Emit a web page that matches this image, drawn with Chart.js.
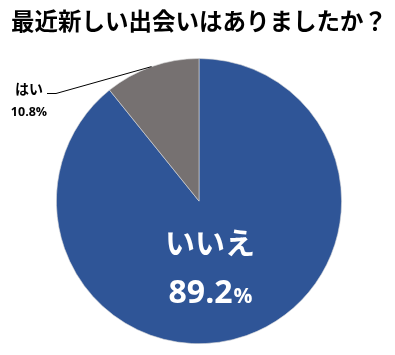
<!DOCTYPE html>
<html>
<head>
<meta charset="utf-8">
<script src="https://cdn.jsdelivr.net/npm/chart.js@4"></script>
<style>
  html, body { margin: 0; padding: 0; background: #fff; }
  #wrap { width: 395px; height: 355px; }
</style>
</head>
<body>
<div id="wrap"><canvas id="chart" width="395" height="355"></canvas></div>
<script>
/* Pie: 最近新しい出会いはありましたか？ — いいえ / はい share. */

const TITLE = '最近新しい出会いはありましたか？';
const labels = ['いいえ', 'はい'];
const shares = [89.2, 10.8];
const colors = ['#2F5597', '#767171'];

const JP = '"Noto Sans CJK JP", "Noto Sans", sans-serif';

// Draws the in-slice label for いいえ and the outside callout for はい.
const sliceLabels = {
  id: 'sliceLabels',
  afterDatasetsDraw(chart) {
    const { ctx } = chart;
    const arcs = chart.getDatasetMeta(0).data;
    const big = arcs[0];
    const small = arcs[1];
    const cx = big.x, cy = big.y;

    ctx.save();
    ctx.textBaseline = 'middle';

    // いいえ, inside the blue slice
    ctx.fillStyle = '#ffffff';
    ctx.textAlign = 'center';
    ctx.font = `bold 30px ${JP}`;
    ctx.fillText(labels[0], cx + 11, cy + 41);

    const num = shares[0].toFixed(1);
    ctx.font = 'bold 32px "Open Sans", sans-serif';
    const wNum = ctx.measureText(num).width;
    ctx.font = 'bold 21px "Open Sans", sans-serif';
    const wPct = ctx.measureText('%').width;
    const x0 = cx + 11 - (wNum + wPct) / 2;
    ctx.textAlign = 'left';
    ctx.font = 'bold 32px "Open Sans", sans-serif';
    ctx.fillText(num, x0, cy + 93);
    ctx.font = 'bold 21px "Open Sans", sans-serif';
    ctx.fillText('%', x0 + wNum + 1, cy + 96);

    // はい, callout to the left with a leader line to the arc middle
    const mid = (small.startAngle + small.endAngle) / 2;
    const ex = small.x + Math.cos(mid) * small.outerRadius;
    const ey = small.y + Math.sin(mid) * small.outerRadius;
    ctx.strokeStyle = '#000000';
    ctx.lineWidth = 1;
    ctx.beginPath();
    ctx.moveTo(47, 93.5);
    ctx.lineTo(56, 93.5);
    ctx.lineTo(ex, ey);
    ctx.stroke();

    ctx.fillStyle = '#000000';
    ctx.textAlign = 'center';
    ctx.font = `bold 14px ${JP}`;
    ctx.fillText(labels[1], 29, 89);
    ctx.font = 'bold 12.5px "Open Sans", sans-serif';
    ctx.fillText(shares[1].toFixed(1) + '%', 29, 112);
    ctx.restore();
  }
};

new Chart(document.getElementById('chart'), {
  type: 'pie',
  data: {
    labels,
    datasets: [{
      data: shares,
      backgroundColor: colors,
      borderColor: '#d9d9d9',
      borderWidth: 0.6,
    }],
  },
  options: {
    responsive: false,
    animation: false,
    rotation: 0,
    // the pie fits the chart-area height; a small left pad centres it at x≈199
    layout: { padding: { left: 3, right: 0, top: 0, bottom: 11 } },
    plugins: {
      legend: { display: false },
      tooltip: { enabled: false },
      title: {
        display: true,
        text: TITLE,
        color: '#000000',
        font: { family: JP, size: 23.5, weight: 'bold', lineHeight: 1.2 },
        padding: { top: 7, bottom: 23 },
      },
    },
  },
  plugins: [sliceLabels],
});
</script>
</body>
</html>
